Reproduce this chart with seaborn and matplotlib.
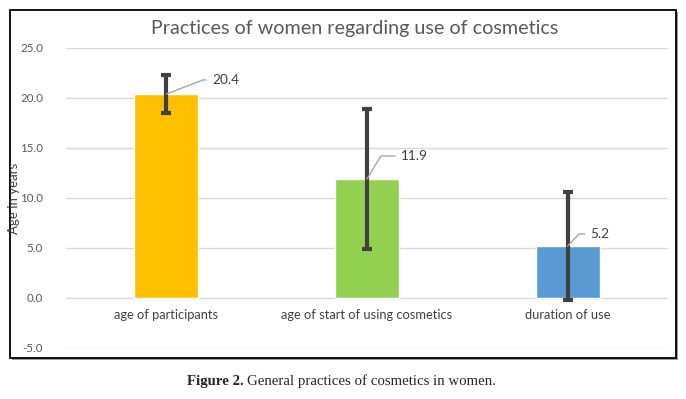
import matplotlib
matplotlib.use("Agg")
import matplotlib.pyplot as plt
from matplotlib.patches import Rectangle
import seaborn as sns
import pandas as pd

# =============================
# DATA
# =============================

categories = ["age of participants", "age of start of using cosmetics", "duration of use"]
means = [20.4, 11.9, 5.2]
sds = [1.9, 7.0, 5.4]
colors = ["#FFC000", "#92D050", "#5B9BD5"]

# leader-line layout for the data labels (pixel offset, slope angle)
label_offsets = [(46, 14), (34, 23), (23, 12)]
leader_angles = [21, 59, 47]

df = pd.DataFrame({"category": categories, "mean": means})

# =============================
# FIGURE
# =============================

sns.set_theme(style="white")
plt.rcParams["font.family"] = ["Lato", "DejaVu Sans"]

W, H = 686, 399
fig = plt.figure(figsize=(W / 100, H / 100), dpi=100)

# chart frame with shadow
fig.patches.append(Rectangle((12 / W, 1 - 360 / H), 666 / W, 348 / H, transform=fig.transFigure,
                             facecolor="#9a9a9a", edgecolor="none", zorder=0))
fig.patches.append(Rectangle((10 / W, 1 - 358 / H), 666 / W, 348 / H, transform=fig.transFigure,
                             facecolor="white", edgecolor="black", lw=1.3, zorder=1))

ax = fig.add_axes([66 / W, 1 - 348 / H, 602 / W, 300 / H])
ax.set_zorder(2)
ax.patch.set_alpha(0)

sns.barplot(data=df, x="category", y="mean", hue="category", palette=colors,
            width=0.32, saturation=1, legend=False, ax=ax, zorder=3)

ax.errorbar(range(len(categories)), means, yerr=sds, fmt="none", ecolor="#404040",
            elinewidth=3, capsize=3.5, capthick=3, zorder=4)

for i, (m, (dx, dy), ang) in enumerate(zip(means, label_offsets, leader_angles)):
    ax.annotate(f"{m:.1f}", xy=(i, m), xytext=(dx, dy), textcoords="offset pixels",
                fontsize=9.8, color="#404040", va="center", ha="left",
                arrowprops=dict(arrowstyle="-", color="#a6a6a6", lw=1,
                                connectionstyle=f"angle,angleA=0,angleB={ang},rad=0",
                                shrinkA=2, shrinkB=0),
                zorder=5)

ax.set_xlim(-0.5, 2.5)
ax.set_ylim(-5, 25)
ticks = [-5, 0, 5, 10, 15, 20, 25]
ax.set_yticks(ticks)
ax.set_yticklabels([f"{v:.1f}" for v in ticks])
ax.yaxis.grid(True, color="#d9d9d9", lw=1)
ax.set_axisbelow(True)
for s in ax.spines.values():
    s.set_visible(False)
ax.tick_params(axis="y", length=0, labelsize=8.3, colors="#595959", pad=16.5)
ax.set_xlabel("")
ax.set_ylabel("Age in years", fontsize=9.5, color="#404040")
ax.yaxis.set_label_coords(-0.076, 0.5)

# category labels sit just below the zero line
ax.set_xticks([])
for i, c in enumerate(categories):
    ax.text(i, -1.1, c, ha="center", va="top", fontsize=9.3, color="#404040")

ax.set_title("Practices of women regarding use of cosmetics", fontsize=14.2,
             color="#595959", pad=10, x=0.48)

# caption: bold lead-in followed by regular text
cap_y = 1 - 381 / H
t1 = fig.text(187 / W, cap_y, "Figure 2.", family="Liberation Serif",
              weight="bold", fontsize=10.7, ha="left", va="center")
fig.canvas.draw()
bb = t1.get_window_extent()
fig.text((bb.x1 + 3) / W, cap_y, "General practices of cosmetics in women.",
         family="Liberation Serif", fontsize=10.7, ha="left", va="center")

fig.savefig("out.png", dpi=100)
